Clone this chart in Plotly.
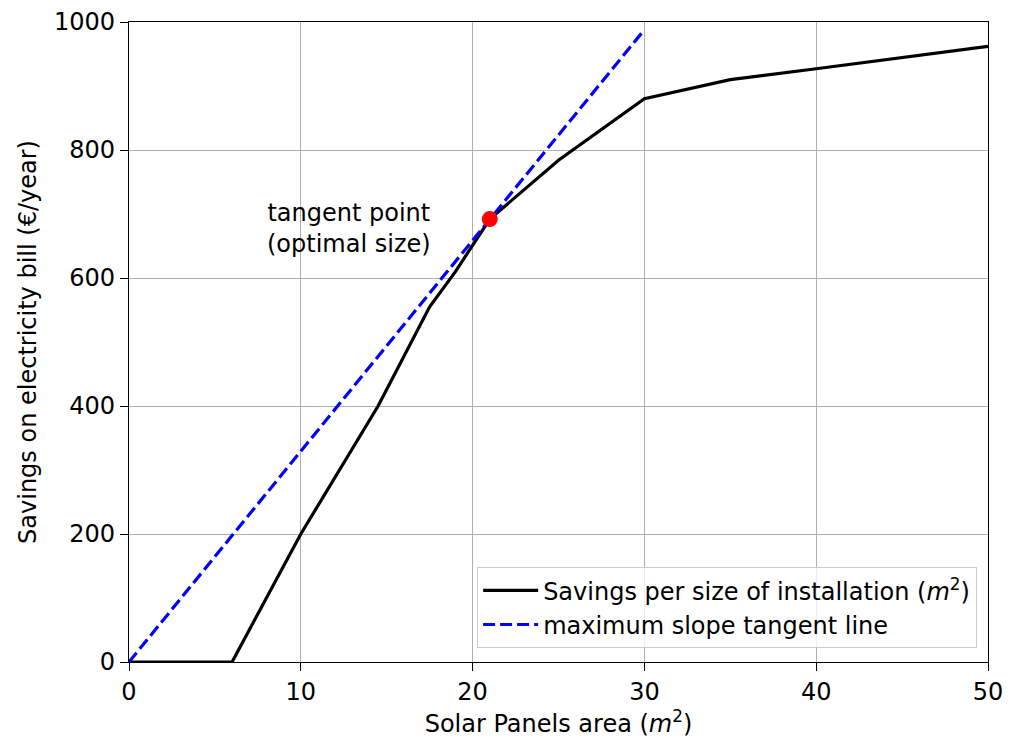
import plotly.graph_objects as go

# Data
area = [0, 6, 10, 14.5, 17.5, 19, 21, 25, 30, 35, 40, 50]
savings = [0, 0, 200, 400, 555, 610, 692, 784, 880, 910, 927, 962]

tangent_x = [0, 30]
tangent_y = [0, 988]

point_x = [21]
point_y = [692]

x_ticks = [0, 10, 20, 30, 40, 50]
y_ticks = [0, 200, 400, 600, 800, 1000]

FONT = "DejaVu Sans"
FS = 24

fig = go.Figure()
fig.add_trace(go.Scatter(
    x=area, y=savings, mode="lines",
    line=dict(color="black", width=3.2),
    name="Savings per size of installation (<i>m</i><sup>2</sup>)",
))
fig.add_trace(go.Scatter(
    x=tangent_x, y=tangent_y, mode="lines",
    line=dict(color="#0000ff", width=3.2, dash="12px,5px"),
    name="maximum slope tangent line",
))
fig.add_trace(go.Scatter(
    x=point_x, y=point_y, mode="markers",
    marker=dict(color="#ff0000", size=16),
    showlegend=False,
))

fig.add_annotation(
    x=12.78, y=678, xref="x", yref="y",
    text="tangent point<br>(optimal size)",
    showarrow=False, align="center",
    xanchor="center", yanchor="middle",
    font=dict(family=FONT, size=FS, color="black"),
)

axis_common = dict(
    showline=True, linecolor="black", linewidth=1.3, mirror=True,
    ticks="outside", ticklen=8, tickwidth=1.3, tickcolor="black",
    showgrid=True, gridcolor="#b0b0b0", gridwidth=1.3,
    zeroline=False, automargin=False,
    tickfont=dict(family=FONT, size=FS, color="black"),
)

fig.update_xaxes(
    range=[0, 50], tickvals=x_ticks, ticktext=[str(v) for v in x_ticks],
    title=dict(text="Solar Panels area (<i>m</i><sup>2</sup>)",
               font=dict(family=FONT, size=FS, color="black"), standoff=8),
    **axis_common,
)
fig.update_yaxes(
    range=[0, 1000], tickvals=y_ticks, ticktext=[str(v) for v in y_ticks],
    title=dict(text="Savings on electricity bill (€/year)",
               font=dict(family=FONT, size=FS, color="black"), standoff=10),
    **axis_common,
)

# The page body adds an 8px offset, so the figure is 8px smaller than the window
fig.update_layout(
    width=1005, height=730,
    margin=dict(l=121, r=25, t=14, b=76),
    plot_bgcolor="white", paper_bgcolor="white",
    font=dict(family=FONT, size=FS, color="black"),
    legend=dict(
        x=0.987, y=0.022, xanchor="right", yanchor="bottom",
        bgcolor="rgba(255,255,255,0.8)", bordercolor="#cccccc", borderwidth=1.3,
        itemwidth=55,
        font=dict(family=FONT, size=FS, color="black"),
    ),
)

fig.write_html("out.html")
